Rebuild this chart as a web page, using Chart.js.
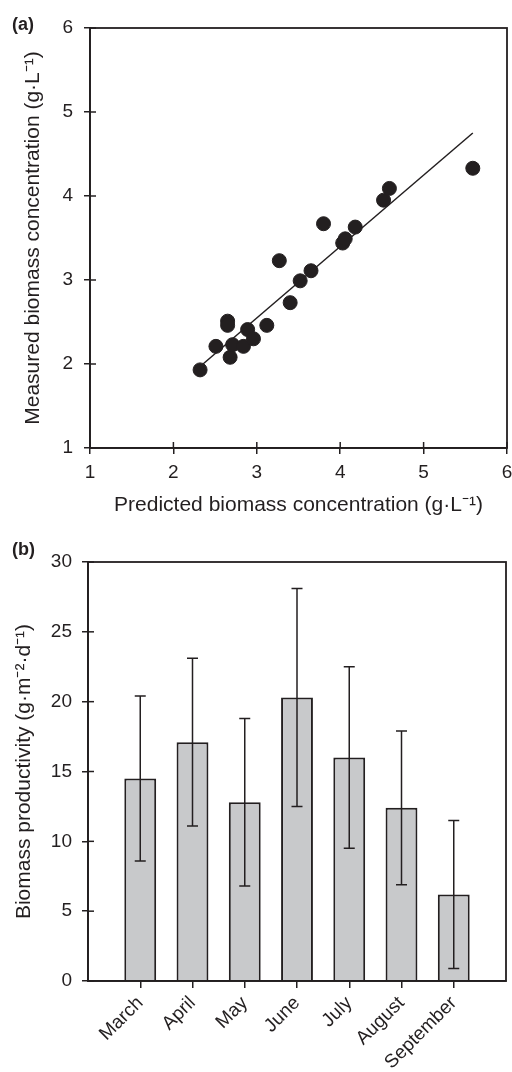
<!DOCTYPE html>
<html><head><meta charset="utf-8">
<script src="https://cdn.jsdelivr.net/npm/chart.js@4.4.1/dist/chart.umd.min.js"></script>
<style>
html,body{margin:0;padding:0;background:#fff;width:512px;height:1072px;overflow:hidden;}
.wrap{position:absolute;left:0;width:512px;}
#wa{top:0;height:535px;width:515px;}
#wb{top:535px;height:537px;}
.lab{position:absolute;left:12px;font:bold 18px "Liberation Sans",Arial,sans-serif;color:#231f20;}
</style></head><body>
<div class="wrap" id="wa"><canvas id="ca"></canvas></div>
<div class="wrap" id="wb"><canvas id="cb"></canvas></div>
<div class="lab" style="top:14px">(a)</div>
<div class="lab" style="top:539px">(b)</div>
<script>
// ---- Panel (a) data ----
const predicted = [2.32, 2.51, 2.65, 2.65, 2.68, 2.71, 2.84, 2.89, 2.96, 3.12, 3.27, 3.40, 3.52, 3.65, 3.80, 4.03, 4.06, 4.18, 4.52, 4.59, 5.59];
const measured  = [1.93, 2.21, 2.51, 2.46, 2.08, 2.23, 2.21, 2.41, 2.30, 2.46, 3.23, 2.73, 2.99, 3.11, 3.67, 3.44, 3.49, 3.63, 3.95, 4.09, 4.33];
const fitX = [2.32, 5.59];
const fitY = [1.97, 4.75];
const axisRangeA = [1, 6];

// ---- Panel (b) data ----
const months = ['March', 'April', 'May', 'June', 'July', 'August', 'September'];
const productivity   = [14.5, 17.1, 12.8, 20.3, 16.0, 12.4, 6.2];
const productivitySD = [5.9, 6.0, 6.0, 7.8, 6.5, 5.5, 5.3];
const axisRangeB = [0, 30];

const INK = '#231f20';
const FAM = '"Liberation Sans", Arial, sans-serif';
Chart.defaults.font.family = FAM;
Chart.defaults.color = INK;

const frame = {
  id: 'frame',
  afterDraw(chart, args, opts) {
    const {ctx, chartArea: a} = chart;
    ctx.save();
    ctx.strokeStyle = INK;
    ctx.lineWidth = 1.8;
    ctx.strokeRect(a.left, a.top, a.right - a.left, a.bottom - a.top);
    ctx.lineWidth = 1.5;
    (opts.inner || []).forEach(id => {
      const s = chart.scales[id];
      s.ticks.forEach((t, i) => {
        const p = s.getPixelForTick(i);
        ctx.beginPath();
        if (s.isHorizontal()) { ctx.moveTo(p, a.bottom); ctx.lineTo(p, a.bottom - opts.len); }
        else { ctx.moveTo(a.left, p); ctx.lineTo(a.left + opts.len, p); }
        ctx.stroke();
      });
    });
    ctx.restore();
  }
};

const errorBars = {
  id: 'errorBars',
  afterDatasetsDraw(chart, args, opts) {
    if (!opts.values) return;
    const {ctx} = chart;
    const meta = chart.getDatasetMeta(0);
    const ys = chart.scales.y;
    ctx.save();
    ctx.strokeStyle = INK;
    ctx.lineWidth = 1.5;
    opts.values.forEach((v, i) => {
      const el = meta.data[i + 1];
      if (!el) return;
      const x = el.x;
      const hi = ys.getPixelForValue(v + opts.errors[i]);
      const lo = ys.getPixelForValue(v - opts.errors[i]);
      ctx.beginPath();
      ctx.moveTo(x, hi); ctx.lineTo(x, lo);
      ctx.moveTo(x - opts.cap, hi); ctx.lineTo(x + opts.cap, hi);
      ctx.moveTo(x - opts.cap, lo); ctx.lineTo(x + opts.cap, lo);
      ctx.stroke();
    });
    ctx.restore();
  }
};

const tickFont = {size: 19, family: FAM};
const titleFont = {size: 21, family: FAM};
const noPad = s => { s.paddingLeft = 0; s.paddingRight = 0; s.paddingTop = 0; s.paddingBottom = 0; };

new Chart(document.getElementById('ca'), {
  type: 'scatter',
  data: {
    datasets: [
      {
        data: fitX.map((x, i) => ({x: x, y: fitY[i]})),
        showLine: true, borderColor: INK, borderWidth: 1.5, pointRadius: 0, order: 2
      },
      {
        data: predicted.map((x, i) => ({x: x, y: measured[i]})),
        backgroundColor: INK, borderColor: INK, pointRadius: 7, order: 1
      }
    ]
  },
  options: {
    animation: false, responsive: true, maintainAspectRatio: false,
    layout: {padding: {top: 28, right: 2, left: 0, bottom: 0}},
    plugins: {legend: {display: false}, tooltip: {enabled: false}, frame: {inner: ['x', 'y'], len: 6}},
    scales: {
      x: {
        type: 'linear', min: axisRangeA[0], max: axisRangeA[1],
        ticks: {stepSize: 1, font: tickFont, color: INK, padding: 7},
        grid: {drawOnChartArea: false, tickLength: 6, color: INK, lineWidth: 1.5},
        border: {color: INK, width: 1.8},
        title: {display: true, text: 'Predicted biomass concentration (g·L⁻¹)', font: titleFont, color: INK, padding: {top: 0, bottom: 17}},
        afterFit: s => { s.height = 87; noPad(s); }
      },
      y: {
        type: 'linear', min: axisRangeA[0], max: axisRangeA[1],
        ticks: {stepSize: 1, font: tickFont, color: INK, padding: 11},
        grid: {drawOnChartArea: false, tickLength: 6, color: INK, lineWidth: 1.5},
        border: {color: INK, width: 1.8},
        title: {display: true, text: 'Measured biomass concentration (g·L⁻¹)', font: titleFont, color: INK, padding: {top: 21, bottom: 0}},
        afterFit: s => { s.width = 90; noPad(s); }
      }
    }
  },
  plugins: [frame]
});

const labelsB = [''].concat(months, ['']);
new Chart(document.getElementById('cb'), {
  type: 'bar',
  data: {
    labels: labelsB,
    datasets: [{
      data: [null].concat(productivity, [null]),
      backgroundColor: '#c8c9cb', borderColor: INK, borderWidth: 2,
      barPercentage: 0.61, categoryPercentage: 1
    }]
  },
  options: {
    animation: false, responsive: true, maintainAspectRatio: false,
    layout: {padding: {top: 27, right: 6, left: 0, bottom: 0}},
    plugins: {
      legend: {display: false}, tooltip: {enabled: false},
      frame: {inner: ['y'], len: 6},
      errorBars: {values: productivity, errors: productivitySD, cap: 5.5}
    },
    scales: {
      x: {
        type: 'category', offset: false,
        ticks: {font: tickFont, color: INK, padding: 4, minRotation: 45, maxRotation: 45, autoSkip: false},
        grid: {drawOnChartArea: false, offset: false, tickLength: 7, lineWidth: 1.5,
               color: c => (c.index === 0 || c.index === labelsB.length - 1) ? 'rgba(0,0,0,0)' : INK},
        border: {color: INK, width: 1.8},
        afterFit: s => { s.height = 91; noPad(s); }
      },
      y: {
        min: axisRangeB[0], max: axisRangeB[1],
        ticks: {stepSize: 5, font: tickFont, color: INK, padding: 10},
        grid: {drawOnChartArea: false, tickLength: 6, color: INK, lineWidth: 1.5},
        border: {color: INK, width: 1.8},
        title: {display: true, text: 'Biomass productivity (g·m⁻²·d⁻¹)', font: titleFont, color: INK, padding: {top: 12, bottom: 0}},
        afterFit: s => { s.width = 88; noPad(s); }
      }
    }
  },
  plugins: [frame, errorBars]
});
</script>
</body></html>
